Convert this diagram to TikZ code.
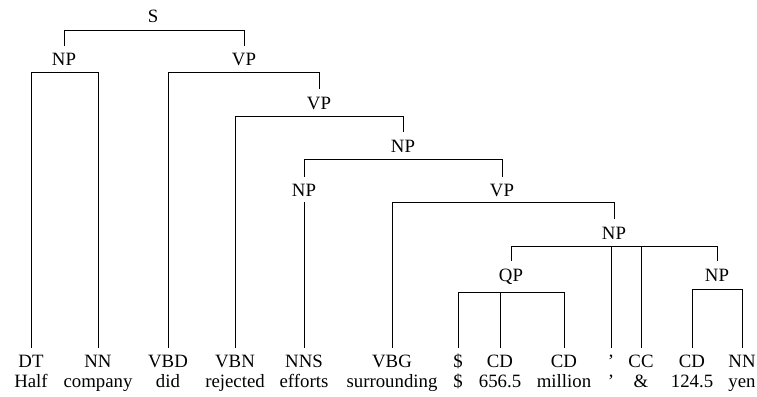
\documentclass[tikz,border=0pt]{standalone}
\usepackage{fontspec}
\setmainfont{Liberation Serif}
\newfontfamily\treefont{Liberation Serif}
\begin{document}
\begin{tikzpicture}[x=1pt,y=-1pt,
  lab/.style={font=\treefont\fontsize{18.8}{20}\selectfont, inner sep=0pt, anchor=base, text height=12.5pt, text depth=0pt},
  word/.style={font=\treefont\fontsize{18.8}{20}\selectfont, inner sep=0pt, anchor=base},
  edge/.style={line width=0.85pt, line cap=rect}]
\useasboundingbox (0,0) rectangle (757,396);
% internal labels
\node[lab] (S) at (153,23) {S};
\node[lab] (np1) at (64,66) {NP};
\node[lab] (vp1) at (244,66) {VP};
\node[lab] (vp2) at (319,109) {VP};
\node[lab] (np3) at (403,152) {NP};
\node[lab] (np4) at (304,196) {NP};
\node[lab] (vp4) at (502,196) {VP};
\node[lab] (np5) at (614,239) {NP};
\node[lab] (qp) at (511,281) {QP};
\node[lab] (np6) at (717,281) {NP};
% bars
\coordinate (Sb) at (153,30);
\coordinate (np1b) at (64,72);
\coordinate (vp1b) at (244,72);
\coordinate (vp2b) at (319,116);
\coordinate (np3b) at (403,159);
\coordinate (np4b) at (304,202);
\coordinate (vp4b) at (502,202);
\coordinate (np5b) at (614,246);
\coordinate (qpb) at (511,292);
\coordinate (np6b) at (717,289);
% tags
\node[lab] (t1) at (31,367) {DT};
\node[lab] (t2) at (98,367) {NN};
\node[lab] (t3) at (168,367) {VBD};
\node[lab] (t4) at (235,367) {VBN};
\node[lab] (t5) at (304,367) {NNS};
\node[lab] (t6) at (392,367) {VBG};
\node[lab] (t7) at (458,367) {\$};
\node[lab] (t8) at (500,367) {CD};
\node[lab] (t9) at (564,367) {CD};
\node[lab] (t10) at (611,367) {’};
\node[lab] (t11) at (641,367) {CC};
\node[lab] (t12) at (692,367) {CD};
\node[lab] (t13) at (742,367) {NN};
% words
\node[word] (w1) at (31,387) {Half};
\node[word] (w2) at (98,387) {company};
\node[word] (w3) at (168,387) {did};
\node[word] (w4) at (235,387) {rejected};
\node[word] (w5) at (304,387) {efforts};
\node[word] (w6) at (392,387) {surrounding};
\node[word] (w7) at (458,387) {\$};
\node[word] (w8) at (500,387) {656.5};
\node[word] (w9) at (564,387) {million};
\node[word] (w10) at (611,387) {’};
\node[word] (w11) at (641,387) {\&};
\node[word] (w12) at (692,387) {124.5};
\node[word] (w13) at (742,387) {yen};
% internal edges
\draw[edge] ([yshift=8pt]np1.north) |- (Sb);
\draw[edge] ([yshift=8pt]vp1.north) |- (Sb);
\draw[edge] ([yshift=8pt]vp2.north) |- (vp1b);
\draw[edge] ([yshift=8pt]np3.north) |- (vp2b);
\draw[edge] ([yshift=7pt]np4.north) |- (np3b);
\draw[edge] ([yshift=7pt]vp4.north) |- (np3b);
\draw[edge] ([yshift=8pt]np5.north) |- (vp4b);
\draw[edge] ([yshift=8pt]qp.north) |- (np5b);
\draw[edge] ([yshift=8pt]np6.north) |- (np5b);
% leaf edges
\draw[edge] ([yshift=6.5pt]t1.north) |- (np1b);
\draw[edge] ([yshift=6.5pt]t2.north) |- (np1b);
\draw[edge] ([yshift=6.5pt]t3.north) |- (vp1b);
\draw[edge] ([yshift=6.5pt]t4.north) |- (vp2b);
\draw[edge] ([yshift=6.5pt]t5.north) |- (np4b);
\draw[edge] ([yshift=6.5pt]t6.north) |- (vp4b);
\draw[edge] ([yshift=6.5pt]t7.north) |- (qpb);
\draw[edge] ([yshift=6.5pt]t8.north) |- (qpb);
\draw[edge] ([yshift=6.5pt]t9.north) |- (qpb);
\draw[edge] ([yshift=6.5pt]t10.north) |- (np5b);
\draw[edge] ([yshift=6.5pt]t11.north) |- (np5b);
\draw[edge] ([yshift=6.5pt]t12.north) |- (np6b);
\draw[edge] ([yshift=6.5pt]t13.north) |- (np6b);
\end{tikzpicture}
\end{document}
